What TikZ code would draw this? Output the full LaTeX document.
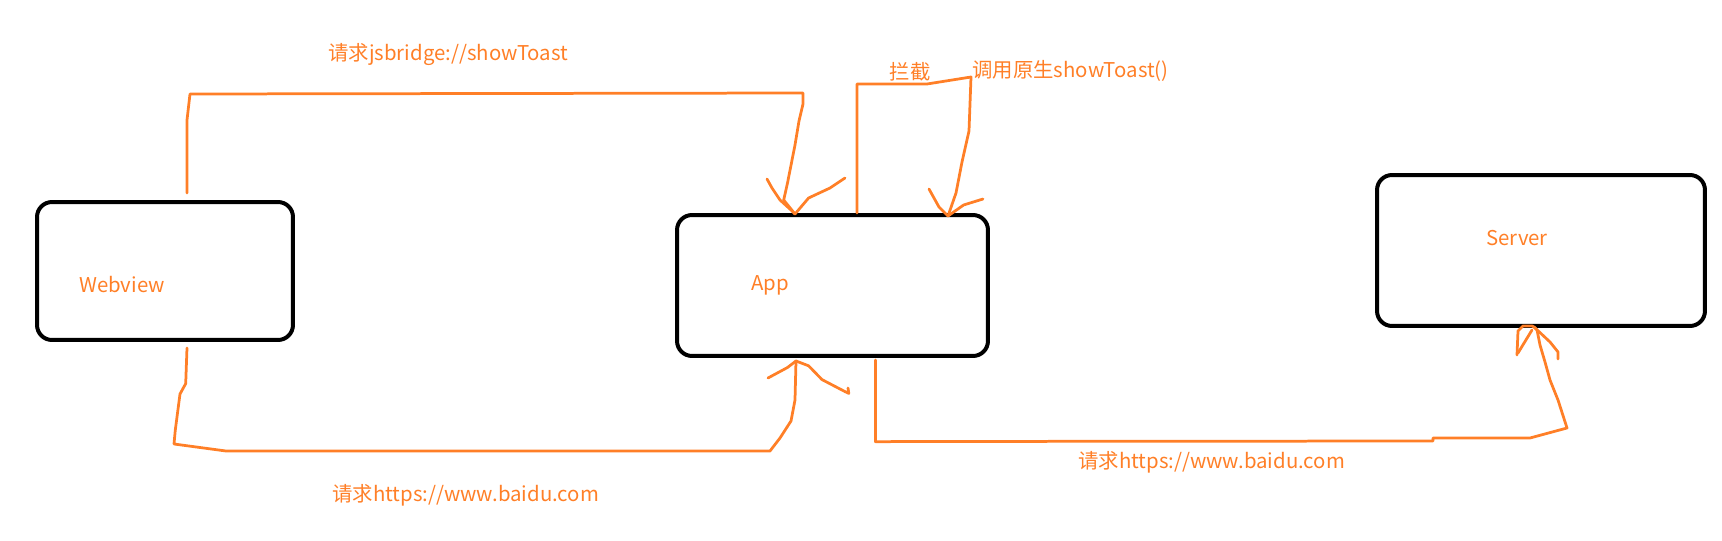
\documentclass[tikz,border=0pt]{standalone}
\usepackage{fontspec}
\setmainfont{Noto Sans CJK SC}
\usetikzlibrary{calc}
\definecolor{paintorange}{RGB}{255,127,39}

\begin{document}
\begin{tikzpicture}[x=0.02cm, y=-0.02cm,
    box/.style={draw=black, line width=0.08cm, rounded corners=0.3cm, inner sep=0pt},
    lbl/.style={text=paintorange, font=\fontsize{11.6}{13}\selectfont, inner sep=0pt},
    pen/.style={draw=paintorange, line width=0.055cm, line cap=round, line join=round}]
    \useasboundingbox (0,0) rectangle (1722,541);
    % \draw[help lines, step=100] (0,0) grid (1722,541);

    % boxes
    \node[box, minimum width=5.12cm, minimum height=2.76cm] (web) at (165,271) {};
    \node[box, minimum width=6.22cm, minimum height=2.82cm] (app) at (832.5,285.5) {};
    \node[box, minimum width=6.56cm, minimum height=3.02cm] (srv) at (1541,250.5) {};
    \node[lbl] (webtxt) at (122,285) {Webview};
    \node[lbl] (apptxt) at (770,285) {App};
    \node[lbl] (srvtxt) at (1517,238) {Server};

    % labels
    \node[lbl, anchor=west] (jsreq) at (328,54) {请求jsbridge://showToast};
    \node[lbl] (intercept) at (910,72) {拦截};
    \node[lbl, anchor=west] (callnative) at (972,71) {调用原生showToast()};
    \node[lbl, anchor=west] (webreq) at (332,495) {请求https://www.baidu.com};
    \node[lbl, anchor=west] (appreq) at (1078,462) {请求https://www.baidu.com};

    % end points on the boxes
    \coordinate (webtop) at ($(web.north)+(22,-7)$);
    \coordinate (webbot) at ($(web.south)+(22,6)$);
    \coordinate (tipa) at ($(app.north)+(-37.5,1)$);
    \coordinate (appmid) at ($(app.north)+(24.5,0)$);
    \coordinate (tipb) at ($(app.north)+(115.5,3)$);
    \coordinate (tipc) at ($(app.south)+(-36.5,3)$);
    \coordinate (appout) at ($(app.south)+(43,2)$);
    \coordinate (tipd) at ($(srv.south)+(-7,-1)$);

    % jsbridge request
    \draw[pen] (webtop) -- (187,120) -- (190,94) -- (803,93) -- (803,104) -- (799,121)
        -- (795,145) -- (787.5,183) -- (783.7,200) -- (tipa);
    \draw[pen] (767,179) -- (772,188) -- (780,200) -- (791,210) -- (tipa);
    \draw[pen] (845,178) -- (830,188) -- (808.6,198) -- (tipa);

    % intercept, then call native
    \draw[pen] (appmid) -- (857,84) -- (927,84) -- (971,77) -- (969,131) -- (962,162)
        -- (956,193) -- (tipb);
    \draw[pen] (929,189) -- (939,207) -- (tipb);
    \draw[pen] (983,199) -- (963.6,205) -- (tipb);

    % https request, webview to app
    \draw[pen] (webbot) -- (185.7,383.6) -- (180,394) -- (175.3,430) -- (174,444)
        -- (226,451) -- (770,451) -- (780,438) -- (791,421) -- (795,400) -- (tipc);
    \draw[pen] (768,378) -- (787.5,367.5) -- (tipc);
    \draw[pen] (tipc) -- (808.6,365.8) -- (822,379.6) -- (845,391.6) -- (848.8,393.4) -- (848,388);

    % https request, app to server
    \draw[pen] (appout) -- (875.5,441.7) -- (914,441.5) -- (1433,441) -- (1433,438)
        -- (1530,438) -- (1567,428) -- (1558,400) -- (1550,380) -- (1545,362)
        -- (1540,345) -- (1537,330) -- (tipd);
    \draw[pen] (1517,355) -- (1518,331) -- (1523,326) -- (1532,326) -- (tipd);
    \draw[pen] (1518,353) -- (1532,330);
    \draw[pen] (tipd) -- (1550,342) -- (1558,352) -- (1558,359);
\end{tikzpicture}
\end{document}
